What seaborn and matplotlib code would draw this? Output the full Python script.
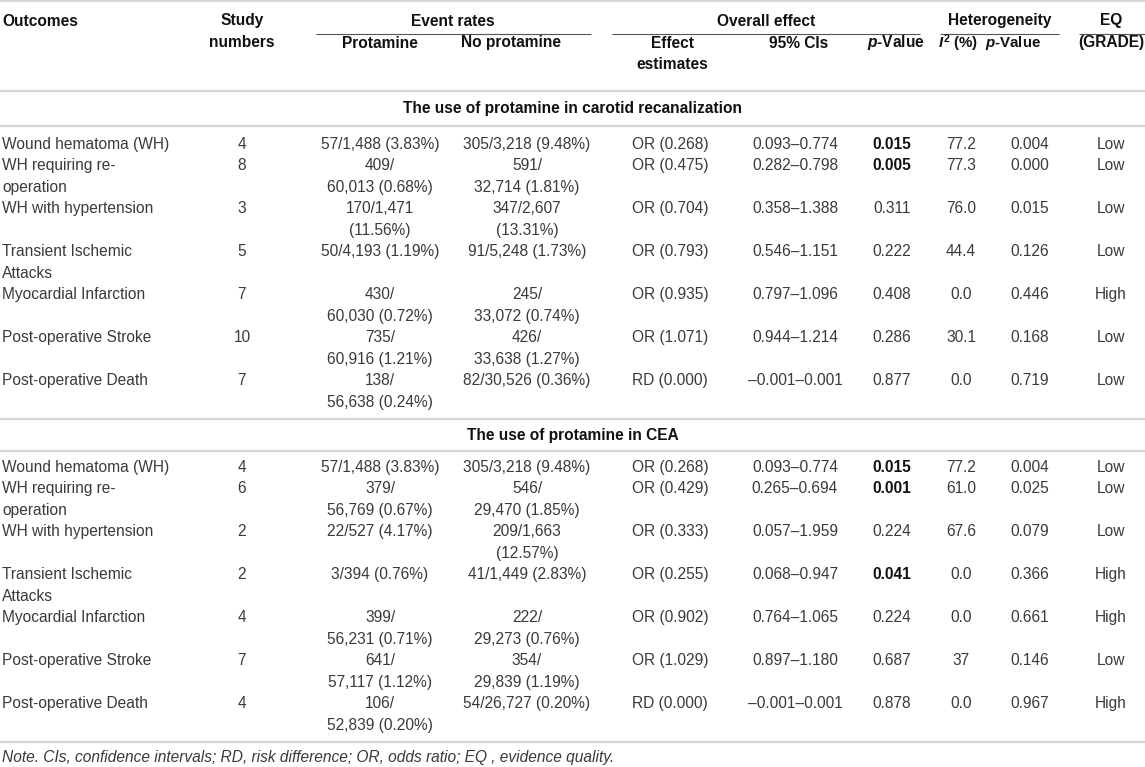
import pandas as pd
import matplotlib.pyplot as plt
import seaborn as sns

# table values
outcomes = ["Wound hematoma (WH)", "WH requiring re-\noperation", "WH with hypertension",
            "Transient Ischemic\nAttacks", "Myocardial Infarction", "Post-operative Stroke",
            "Post-operative Death"]
section_titles = ["The use of protamine in carotid recanalization", "The use of protamine in CEA"]

studies1 = [4, 8, 3, 5, 7, 10, 7]
prot1 = ["57/1,488 (3.83%)", "409/\n60,013 (0.68%)", "170/1,471\n(11.56%)", "50/4,193 (1.19%)",
         "430/\n60,030 (0.72%)", "735/\n60,916 (1.21%)", "138/\n56,638 (0.24%)"]
noprot1 = ["305/3,218 (9.48%)", "591/\n32,714 (1.81%)", "347/2,607\n(13.31%)", "91/5,248 (1.73%)",
           "245/\n33,072 (0.74%)", "426/\n33,638 (1.27%)", "82/30,526 (0.36%)"]
effect1 = ["OR (0.268)", "OR (0.475)", "OR (0.704)", "OR (0.793)", "OR (0.935)", "OR (1.071)", "RD (0.000)"]
ci1 = ["0.093–0.774", "0.282–0.798", "0.358–1.388", "0.546–1.151", "0.797–1.096", "0.944–1.214", "–0.001–0.001"]
p1 = ["0.015", "0.005", "0.311", "0.222", "0.408", "0.286", "0.877"]
i2_1 = ["77.2", "77.3", "76.0", "44.4", "0.0", "30.1", "0.0"]
hetp1 = ["0.004", "0.000", "0.015", "0.126", "0.446", "0.168", "0.719"]
eq1 = ["Low", "Low", "Low", "Low", "High", "Low", "Low"]

studies2 = [4, 6, 2, 2, 4, 7, 4]
prot2 = ["57/1,488 (3.83%)", "379/\n56,769 (0.67%)", "22/527 (4.17%)", "3/394 (0.76%)",
         "399/\n56,231 (0.71%)", "641/\n57,117 (1.12%)", "106/\n52,839 (0.20%)"]
noprot2 = ["305/3,218 (9.48%)", "546/\n29,470 (1.85%)", "209/1,663\n(12.57%)", "41/1,449 (2.83%)",
           "222/\n29,273 (0.76%)", "354/\n29,839 (1.19%)", "54/26,727 (0.20%)"]
effect2 = ["OR (0.268)", "OR (0.429)", "OR (0.333)", "OR (0.255)", "OR (0.902)", "OR (1.029)", "RD (0.000)"]
ci2 = ["0.093–0.774", "0.265–0.694", "0.057–1.959", "0.068–0.947", "0.764–1.065", "0.897–1.180", "–0.001–0.001"]
p2 = ["0.015", "0.001", "0.224", "0.041", "0.224", "0.687", "0.878"]
i2_2 = ["77.2", "61.0", "67.6", "0.0", "0.0", "37", "0.0"]
hetp2 = ["0.004", "0.025", "0.079", "0.366", "0.661", "0.146", "0.967"]
eq2 = ["Low", "Low", "Low", "High", "High", "Low", "High"]

note = "Note. CIs, confidence intervals; RD, risk difference; OR, odds ratio; EQ , evidence quality."

cols = ["outcome", "study", "prot", "noprot", "effect", "ci", "p", "i2", "hetp", "eq"]
df1 = pd.DataFrame(dict(zip(cols, [outcomes, studies1, prot1, noprot1, effect1, ci1, p1, i2_1, hetp1, eq1])))
df2 = pd.DataFrame(dict(zip(cols, [outcomes, studies2, prot2, noprot2, effect2, ci2, p2, i2_2, hetp2, eq2])))

sns.set_theme(style="white")
plt.rcParams['font.family'] = ['Liberation Sans', 'DejaVu Sans']
plt.rcParams['mathtext.fontset'] = 'custom'
plt.rcParams['mathtext.rm'] = 'Liberation Sans:bold'
plt.rcParams['mathtext.it'] = 'Liberation Sans:italic:bold'

W, H = 1145, 767
fig = plt.figure(figsize=(W / 100, H / 100), dpi=100)
ax = fig.add_axes([0, 0, 1, 1])
ax.set_xlim(0, W)
ax.set_ylim(H, 0)
ax.axis('off')

fs = 11.2
dark = '#111111'
body = '#3a3a3a'
rule = '#d6d6d6'
lh = 21.5

# column centres (outcome column is left aligned)
xpos = {"outcome": 2, "study": 242, "prot": 380, "noprot": 527, "effect": 670,
        "ci": 795, "p": 892, "i2": 961, "hetp": 1030, "eq": 1111}


def hrule(y, x0=0, x1=W, c=rule, lw=1.6):
    ax.plot([x0, x1], [y, y], color=c, lw=lw, solid_capstyle='butt')


def cell(x, y, s, ha='center', weight='normal', color=body, style='normal', size=fs):
    for i, line in enumerate(str(s).split('\n')):
        ax.text(x, y + i * lh, line, ha=ha, va='center', fontsize=size,
                fontweight=weight, color=color, fontstyle=style)


# header
hrule(1)
cell(2, 21, "Outcomes", ha='left', weight='bold', color=dark)
cell(242, 21, "Study\nnumbers", weight='bold', color=dark)
cell(453, 21, "Event rates", weight='bold', color=dark)
cell(380, 43, "Protamine", weight='bold', color=dark)
cell(511, 43, "No protamine", weight='bold', color=dark)
cell(766, 21, "Overall effect", weight='bold', color=dark)
cell(672, 43, "Effect\nestimates", weight='bold', color=dark)
cell(799, 43, "95% CIs", weight='bold', color=dark)
cell(896, 43, r"$\mathit{p}$-Value", weight='bold', color=dark)
cell(1000, 21, "Heterogeneity", weight='bold', color=dark)
cell(958, 43, r"$\mathit{I}^{2}$ (%)", weight='bold', color=dark, size=10.8)
cell(1013, 43, r"$\mathit{p}$-Value", weight='bold', color=dark, size=10.8)
cell(1111, 21, "EQ", weight='bold', color=dark)
cell(1111, 43, "(GRADE)", weight='bold', color=dark)
for x0, x1 in [(316, 591), (612, 920), (940, 1059), (1079, W)]:
    hrule(34, x0, x1, c='#555555', lw=0.8)
hrule(91)


def draw_section(df, title, y_rule, pad):
    cell(W / 2, y_rule + pad, title, weight='bold', color=dark)
    hrule(y_rule + 2 * pad)
    y = y_rule + 3 * pad
    for _, r in df.iterrows():
        n = 1
        for c in cols:
            s = str(r[c])
            bold = c == "p" and float(s) < 0.05
            cell(xpos[c], y, s, ha='left' if c == "outcome" else 'center',
                 weight='bold' if bold else 'normal', color=dark if bold else body)
            n = max(n, s.count('\n') + 1)
        y += n * lh
    y_end = y - lh + 17
    hrule(y_end)
    return y_end


y_end = draw_section(df1, section_titles[0], 91, 17.7)
y_end = draw_section(df2, section_titles[1], y_end, 16)

ax.text(2, y_end + 15, note, ha='left', va='center', fontsize=fs, color=body, fontstyle='italic')

fig.savefig("out.png", dpi=100)
